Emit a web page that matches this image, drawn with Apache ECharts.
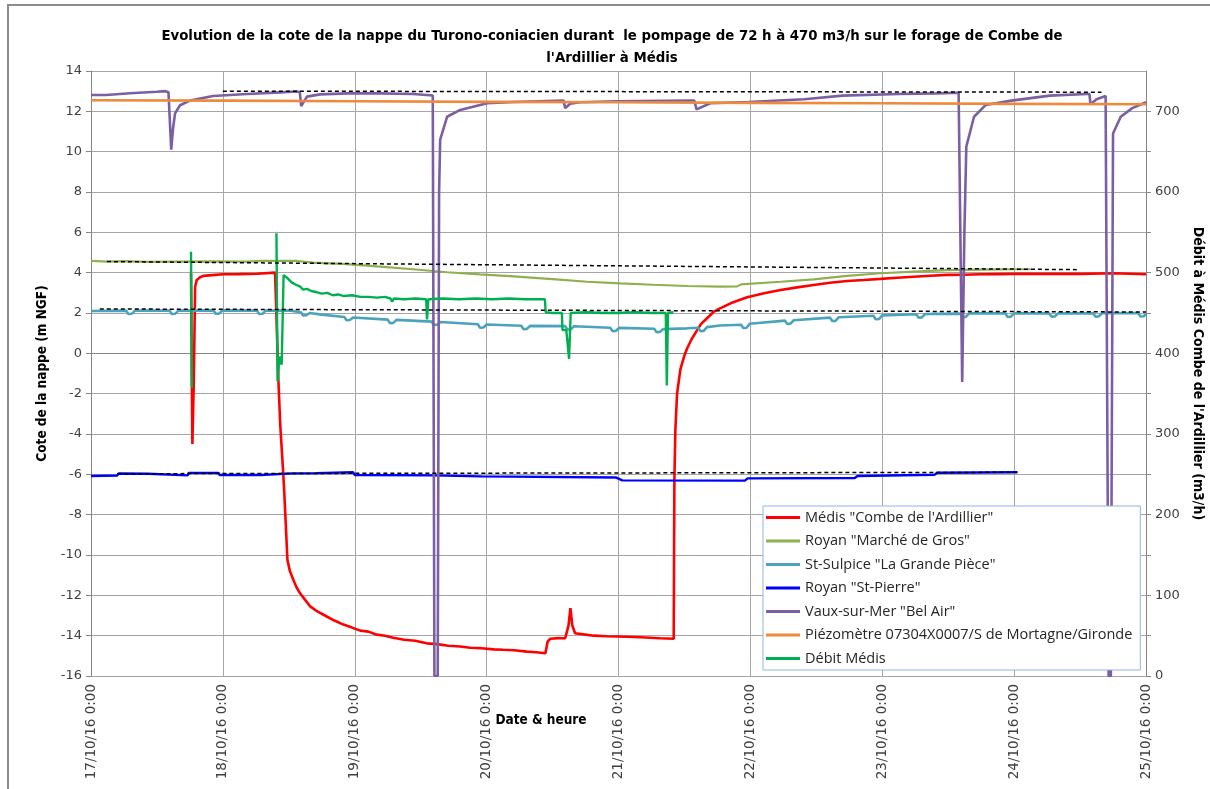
<!DOCTYPE html>
<html>
<head>
<meta charset="utf-8">
<script src="https://cdn.jsdelivr.net/npm/echarts@6/dist/echarts.min.js"></script>
<style>
  html, body { margin: 0; padding: 0; background: #ffffff; }
  #chart { width: 1210px; height: 789px; }
</style>
</head>
<body>
<div id="chart"></div>
<script>
// Time is expressed in hours since 17/10/16 0:00.
const dayLabels = ['17/10/16 0:00', '18/10/16 0:00', '19/10/16 0:00', '20/10/16 0:00', '21/10/16 0:00',
                   '22/10/16 0:00', '23/10/16 0:00', '24/10/16 0:00', '25/10/16 0:00'];

const seriesNames = ['Médis "Combe de l\'Ardillier"', 'Royan "Marché de Gros"', 'St-Sulpice "La Grande Pièce"',
                     'Royan "St-Pierre"', 'Vaux-sur-Mer "Bel Air"', 'Piézomètre 07304X0007/S de Mortagne/Gironde', 'Débit Médis'];

// Water level (m NGF) at Médis "Combe de l'Ardillier"
const medis = [[18.2, 3.97], [18.45, -4.5], [18.7, -1.5], [18.95, 3.3], [19.25, 3.64], [19.85, 3.77], [20.45, 3.84],
  [22, 3.88], [24.1, 3.92], [27, 3.93], [30.2, 3.95], [33.5, 4.0], [33.85, 4.0], [34.1, -1.3], [34.45, -3.6],
  [34.75, -4.9], [35.1, -6.5], [35.35, -7.9], [35.75, -10.25], [36.2, -10.8], [36.85, -11.25], [37.4, -11.6],
  [38.05, -11.9], [38.9, -12.2], [39.9, -12.55], [41.2, -12.8], [42.9, -13.05], [44.3, -13.25], [45.95, -13.45],
  [47.5, -13.6], [49, -13.75], [50.5, -13.8], [52, -13.95], [53.5, -14.0], [55, -14.1], [57, -14.2], [59, -14.25],
  [61.1, -14.38], [63, -14.42], [65, -14.5], [67.2, -14.54], [69, -14.6], [71, -14.62], [73.3, -14.68], [75, -14.7],
  [77, -14.72], [79.3, -14.79], [81, -14.82], [82.7, -14.87], [83.1, -14.3], [83.6, -14.15], [85, -14.12],
  [86.3, -14.13], [86.9, -13.5], [87.25, -12.64], [87.6, -13.5], [88.1, -13.88], [90, -13.95], [91.5, -14.0],
  [94, -14.03], [97.5, -14.05], [100, -14.08], [103.6, -14.13], [106.05, -14.15], [106.17, -6.3], [106.35, -3.8],
  [106.66, -2.0], [107.26, -0.8], [108.0, -0.1], [108.5, 0.25], [109.3, 0.7], [110.2, 1.1], [111, 1.45],
  [112.1, 1.74], [113.3, 2.05], [114.2, 2.19], [116.4, 2.48], [119.4, 2.78], [122.5, 2.98], [125.5, 3.14],
  [128.5, 3.27], [131.5, 3.39], [134.5, 3.5], [137.6, 3.59], [140.7, 3.64], [143.7, 3.69], [146.7, 3.75],
  [149.7, 3.8], [152.8, 3.85], [155.8, 3.89], [158.9, 3.9], [161.9, 3.92], [164.9, 3.93], [167.9, 3.94],
  [174, 3.94], [180.1, 3.94], [186.2, 3.97], [192, 3.92]];

// Royan "Marché de Gros"
const marcheGros = [[0, 4.58], [3, 4.55], [6, 4.57], [10, 4.54], [16.2, 4.55], [22, 4.56], [28, 4.55], [31.2, 4.58],
  [37.5, 4.58], [40.4, 4.5], [46.6, 4.42], [52.6, 4.3], [58.6, 4.17], [64.8, 4.02], [70.8, 3.92], [76.9, 3.82],
  [84, 3.68], [90.3, 3.55], [96.3, 3.47], [102.3, 3.4], [108.5, 3.34], [114.5, 3.31], [117.6, 3.32], [118.3, 3.42],
  [125.5, 3.55], [131.5, 3.67], [137.6, 3.84], [143.7, 3.97], [149.7, 4.05], [155.8, 4.13], [162, 4.15],
  [167.9, 4.17], [171, 4.17]];

// St-Sulpice "La Grande Pièce"
const stSulpice = [[0, 2.1],
  [6.4, 2.12], [6.8, 1.95], [7.4, 1.96], [8.0, 2.12],
  [14.3, 2.12], [14.7, 1.95], [15.3, 1.96], [15.9, 2.12],
  [22.3, 2.13], [22.7, 1.96], [23.3, 1.97], [23.9, 2.13],
  [30.2, 2.12], [30.6, 1.95], [31.2, 1.96], [31.8, 2.12],
  [36.0, 2.12],
  [38.2, 2.04], [38.6, 1.88], [39.2, 1.89], [39.8, 2.0],
  [42.0, 1.92],
  [46.1, 1.8], [46.5, 1.64], [47.1, 1.65], [47.7, 1.78],
  [54.0, 1.67], [54.4, 1.5], [55.0, 1.51], [55.6, 1.66],
  [62.0, 1.57], [62.4, 1.41], [63.0, 1.42], [63.6, 1.55],
  [70.4, 1.44], [70.8, 1.27], [71.4, 1.28], [72.0, 1.43],
  [78.3, 1.37], [78.7, 1.2], [79.3, 1.21], [79.9, 1.36],
  [86.3, 1.35], [86.7, 1.18], [87.3, 1.19], [87.9, 1.34],
  [94.5, 1.27], [94.9, 1.1], [95.5, 1.11], [96.1, 1.26],
  [102.5, 1.22], [102.9, 1.05], [103.5, 1.06], [104.1, 1.2],
  [108.5, 1.24],
  [110.5, 1.27], [110.9, 1.1], [111.5, 1.11], [112.1, 1.3],
  [114.5, 1.38],
  [118.3, 1.42], [118.7, 1.26], [119.3, 1.27], [119.9, 1.47],
  [126.3, 1.62], [126.7, 1.46], [127.3, 1.47], [127.9, 1.64],
  [134.5, 1.77], [134.9, 1.6], [135.5, 1.61], [136.1, 1.79],
  [142.4, 1.86], [142.8, 1.69], [143.4, 1.7], [144.0, 1.88],
  [150.2, 1.94], [150.6, 1.77], [151.2, 1.78], [151.8, 1.95],
  [158.2, 1.97], [158.6, 1.8], [159.2, 1.81], [159.8, 1.98],
  [166.4, 1.98], [166.8, 1.81], [167.4, 1.82], [168.0, 1.98],
  [174.4, 1.98], [174.8, 1.82], [175.4, 1.83], [176.0, 1.98],
  [182.4, 1.99], [182.8, 1.82], [183.4, 1.83], [184.0, 1.99],
  [190.6, 2.0], [191.0, 1.83], [191.6, 1.84], [192, 1.95]];

// Royan "St-Pierre"
const stPierre = [[0, -6.08], [4.8, -6.06], [5.0, -5.96], [10.4, -5.97], [10.6, -6.05], [17.6, -6.05],
  [17.8, -5.93], [23.2, -5.93], [23.4, -6.03], [31, -6.03], [31.2, -5.95], [36.6, -5.95], [41, -5.94],
  [41.2, -5.9], [47.7, -5.9], [48, -6.03], [62.2, -6.05], [62.4, -6.08], [71.1, -6.1], [95.6, -6.16],
  [96.7, -6.3], [119, -6.31], [119.5, -6.2], [139, -6.18], [139.5, -6.08], [153.5, -6.02], [154, -5.92],
  [168.6, -5.9]];

// Vaux-sur-Mer "Bel Air"
const belAir = [[0, 12.81], [2.8, 12.81], [3.0, 12.87], [7.1, 12.9], [12.0, 12.97], [13.5, 13.0], [14.1, 12.95],
  [14.6, 10.1], [14.95, 11.2], [15.3, 11.9], [16.2, 12.3], [18.0, 12.53], [22.2, 12.76], [28.4, 12.86],
  [34.4, 12.94], [37.5, 12.98], [38.0, 12.95], [38.25, 12.26], [39.3, 12.73], [41.7, 12.84], [46.6, 12.89],
  [52.6, 12.89], [58.6, 12.86], [61.7, 12.8], [62.2, 12.78], [62.5, -16], [63.1, -16], [63.35, 8.0],
  [63.55, 10.6], [64.8, 11.73], [67.2, 12.07], [70.8, 12.31], [72.1, 12.4], [76.9, 12.46], [86.0, 12.53],
  [86.3, 12.16], [87.2, 12.38], [89.0, 12.45], [95.6, 12.5], [109.4, 12.53], [109.8, 12.53], [110.2, 12.1],
  [112.7, 12.4], [119.6, 12.46], [129.8, 12.6], [136.8, 12.78], [147.0, 12.86], [153.9, 12.89], [157.9, 12.92],
  [158.55, -1.42], [158.95, 6.0], [159.3, 10.25], [160.7, 11.73], [162.8, 12.31], [167.5, 12.53],
  [174.5, 12.78], [181.2, 12.86], [181.7, 12.86], [181.9, 12.35], [183.0, 12.6], [184.65, 12.76],
  [184.9, 12.74], [185.2, -16], [185.6, -16], [186.0, 10.9], [187.4, 11.73], [189.5, 12.16], [192, 12.45]];

// Piézomètre 07304X0007/S de Mortagne/Gironde
const mortagne = [[0, 12.55], [24, 12.53], [48, 12.5], [72, 12.47], [96, 12.45], [120, 12.42], [144, 12.4],
  [168, 12.37], [192, 12.35]];

// Pumping rate at Médis (m3/h), right axis
const debit = [[18.2, 526], [18.35, 357], [25, null], [33.75, 549], [33.95, 365], [34.3, 396], [34.7, 386],
  [35.05, 497], [35.3, 499], [35.8, 493], [36.5, 488], [37.3, 485], [38.0, 483], [38.6, 479], [39.3, 480],
  [40.2, 477], [41.0, 476], [42.0, 474], [43.0, 475], [44.0, 472], [45.0, 473], [46.0, 471], [47.5, 472],
  [49.0, 470], [50.5, 470], [52.0, 469], [53.5, 470], [54.5, 468], [54.8, 464], [55.1, 468], [57.0, 467],
  [59.0, 468], [61.0, 467], [61.15, 442], [61.3, 442], [61.4, 467], [64.0, 468], [67.0, 467], [70.0, 468],
  [73.0, 467], [76.0, 468], [79.0, 467], [82.6, 467], [82.75, 451], [84.0, 450], [85.7, 450], [85.8, 429],
  [86.5, 429], [87.0, 393], [87.3, 450], [90.0, 451], [93.0, 450], [96.0, 450], [99.0, 451], [102.0, 450],
  [104.6, 450], [104.8, 360], [105.0, 450], [106.0, 451]];

// Static-level trend lines (dashed)
const trendBelAir = [[24, 13.0], [183.9, 12.95]];
const trendMarche = [[2.9, 4.55], [179.4, 4.15]];
const trendSulpice = [[1.6, 2.2], [192, 2.05]];
const trendStPierre = [[4.8, -5.97], [168.6, -5.9]];

const colors = ['#ff0000', '#8fb04f', '#4aa3bd', '#0000ff', '#7b5ea3', '#ee8a3c', '#00b050'];
const widths = [2.6, 2.2, 2.6, 2.4, 2.6, 2.6, 2.4];
const levelData = [medis, marcheGros, stSulpice, stPierre, belAir, mortagne, debit];

const NARROW = '"Liberation Sans Narrow", "Arial Narrow", "DejaVu Sans Condensed", sans-serif';
const TICKFONT = '"DejaVu Sans", Verdana, sans-serif';

const series = levelData.map((d, i) => ({
  name: seriesNames[i],
  type: 'line',
  yAxisIndex: i === 6 ? 1 : 0,
  data: d,
  symbol: 'none',
  showSymbol: false,
  connectNulls: false,
  lineStyle: { color: colors[i], width: widths[i] },
  itemStyle: { color: colors[i] },
  z: 2 + i,
  animation: false
}));

[trendBelAir, trendMarche, trendSulpice, trendStPierre].forEach((d, i) => {
  series.push({
    name: 'trend' + i,
    type: 'line',
    data: d,
    symbol: 'none',
    lineStyle: { color: '#000000', width: 1.5, type: [4, 3] },
    z: 20,
    silent: true,
    animation: false
  });
});

const chart = echarts.init(document.getElementById('chart'), null, { renderer: 'canvas' });
chart.setOption({
  animation: false,
  backgroundColor: '#ffffff',
  grid: { left: 91, right: 64, top: 71, bottom: 113, containLabel: false, outerBoundsMode: 'none' },
  legend: {
    data: seriesNames,
    orient: 'vertical',
    left: 763,
    top: 506,
    z: 100,
    icon: 'rect',
    itemWidth: 34,
    itemHeight: 3,
    itemGap: 8.5,
    padding: [4, 8, 4, 3],
    backgroundColor: '#ffffff',
    borderColor: '#95b3d7',
    borderWidth: 1,
    textStyle: { fontFamily: '"Open Sans", sans-serif', fontSize: 14.5, lineHeight: 14, color: '#262626' }
  },
  xAxis: {
    type: 'value',
    min: 0,
    max: 192,
    interval: 24,
    axisLine: { show: true, lineStyle: { color: '#868686', width: 1 } },
    axisTick: { show: true, length: 5, lineStyle: { color: '#868686' } },
    splitLine: { show: true, lineStyle: { color: '#a6a6a6', width: 1 } },
    axisLabel: {
      rotate: 90,
      margin: 8,
      fontFamily: TICKFONT,
      fontSize: 13.5,
      color: '#404040',
      formatter: v => dayLabels[Math.round(v / 24)] || ''
    }
  },
  yAxis: [
    {
      type: 'value',
      min: -16,
      max: 14,
      interval: 2,
      name: 'Cote de la nappe (m NGF)',
      nameLocation: 'middle',
      nameRotate: 90,
      nameGap: 40,
      nameTextStyle: { fontFamily: NARROW, fontWeight: 'bold', fontSize: 13.5, color: '#000000' },
      axisLine: { show: true, lineStyle: { color: '#868686' } },
      axisTick: { show: true, length: 5, lineStyle: { color: '#868686' } },
      splitLine: { show: true, lineStyle: { color: '#a6a6a6', width: 1 } },
      axisLabel: { fontFamily: TICKFONT, fontSize: 13, color: '#404040', margin: 9 }
    },
    {
      type: 'value',
      min: 0,
      max: 750,
      interval: 50,
      position: 'right',
      name: "Débit à Médis Combe de l'Ardillier (m3/h)",
      nameLocation: 'middle',
      nameRotate: -90,
      nameGap: 44,
      nameTextStyle: { fontFamily: NARROW, fontWeight: 'bold', fontSize: 14, color: '#000000' },
      axisLine: { show: true, lineStyle: { color: '#868686' } },
      axisTick: { show: true, length: 5, lineStyle: { color: '#868686' } },
      splitLine: { show: false },
      axisLabel: {
        fontFamily: TICKFONT, fontSize: 13, color: '#404040', margin: 9, showMaxLabel: false,
        formatter: v => (v % 100 === 0 && v <= 700 ? String(v) : '')
      }
    }
  ],
  graphic: [
    {
      type: 'text', x: 612, y: 25, z: 50,
      style: {
        text: "Evolution de la cote de la nappe du Turono-coniacien durant  le pompage de 72 h à 470 m3/h sur le forage de Combe de\nl'Ardillier à Médis",
        fontFamily: NARROW, fontWeight: 'bold', fontSize: 14.8, lineHeight: 22, fill: '#000000', align: 'center'
      }
    },
    {
      type: 'text', x: 541, y: 720, z: 50,
      style: {
        text: 'Date & heure', fontFamily: NARROW, fontWeight: 'bold', fontSize: 13.5, fill: '#000000',
        align: 'center', verticalAlign: 'middle'
      }
    },
    {
      type: 'polyline', z: 50, silent: true,
      shape: { points: [[8, 800], [8, 5], [1220, 5]] },
      style: { stroke: '#8c8c8c', lineWidth: 2, fill: null }
    }
  ],
  series: series
});
</script>
</body>
</html>
